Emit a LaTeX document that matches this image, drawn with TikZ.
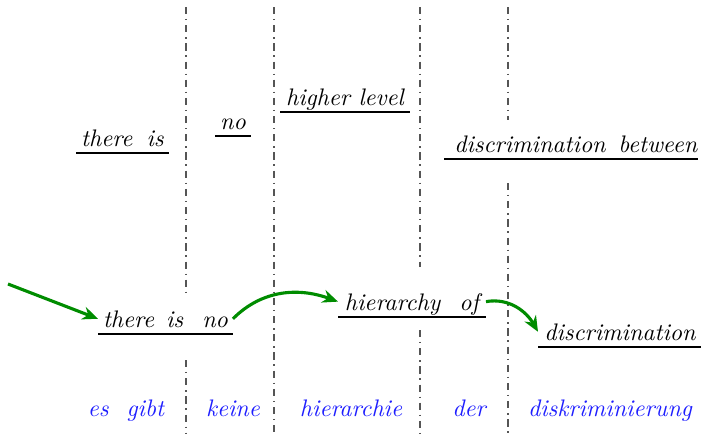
\documentclass[tikz,border=0pt]{standalone}
\usepackage{tikz}
\usetikzlibrary{arrows.meta,positioning}
\definecolor{glossblue}{RGB}{30,30,255}
\definecolor{flowgreen}{RGB}{0,140,0}
\definecolor{sepgray}{RGB}{85,85,85}
\tikzstyle{chunk}=[anchor=south west,inner xsep=0pt,inner ysep=2.7pt,text depth=0pt,
                  font=\itshape,align=center]
\tikzstyle{gloss}=[anchor=base,inner sep=0pt,font=\itshape,text=glossblue]
\tikzstyle{uline}=[semithick,draw=black]
\tikzstyle{sepline}=[semithick,dash dot,draw=sepgray]
\tikzstyle{flow}=[-{Stealth[length=6.5pt,width=5.5pt]},line width=1.3pt,draw=flowgreen]

\begin{document}
\begin{tikzpicture}[x=0.418pt,y=-0.418pt]
      \useasboundingbox (0,0) rectangle (701,433);
      % column separators
      \foreach \x/\a/\b in {186/7/296,186/360/433,274/7/433,420/7/267,420/330/433,508/7/120,508/183/433}
        \draw[sepline] (\x,\a) -- (\x,\b);
      % upper chunks
      \node[chunk,minimum width=92*0.418pt] (thereis) at (76,153) {there\hspace{6pt}is};
      \node[chunk,minimum width=35*0.418pt] (no) at (215,136) {no};
      \node[chunk,minimum width=129*0.418pt] (higher) at (280,112) {higher level};
      \node[chunk,minimum width=253*0.418pt] (between) at (444,159) {\hspace{4pt}discrimination\hspace{5.3pt}between};
      % lower chunks
      \node[chunk,minimum width=134*0.418pt] (thereisno) at (98,334) {there\hspace{5pt}is\hspace{8pt}no};
      \node[chunk,minimum width=147*0.418pt] (hierarchy) at (338,317) {hierarchy\hspace{8pt}of};
      \node[chunk,minimum width=163*0.418pt] (discr) at (538,347) {discrimination};
      \foreach \n in {thereis,no,higher,between,thereisno,hierarchy,discr}
        \draw[uline] (\n.south west) -- (\n.south east);
      % german words
      \node[gloss] (esgibt) at (126,416) {es\hspace{7.5pt}gibt};
      \node[gloss] (keine) at (233,416) {keine};
      \node[gloss] (hierarchie) at (351,416) {hierarchie};
      \node[gloss] (der) at (469,416) {der};
      \node[gloss] (diskr) at (610,416) {diskriminierung};
      % path
      \coordinate (entry) at (8,284);
      \draw[flow] (entry) -- (thereisno.west);
      \draw[flow] (thereisno.east) to[out=45,in=160] (hierarchy.west);
      \draw[flow] (hierarchy.east) to[out=10,in=120] (discr.west);
    \end{tikzpicture}
\end{document}
